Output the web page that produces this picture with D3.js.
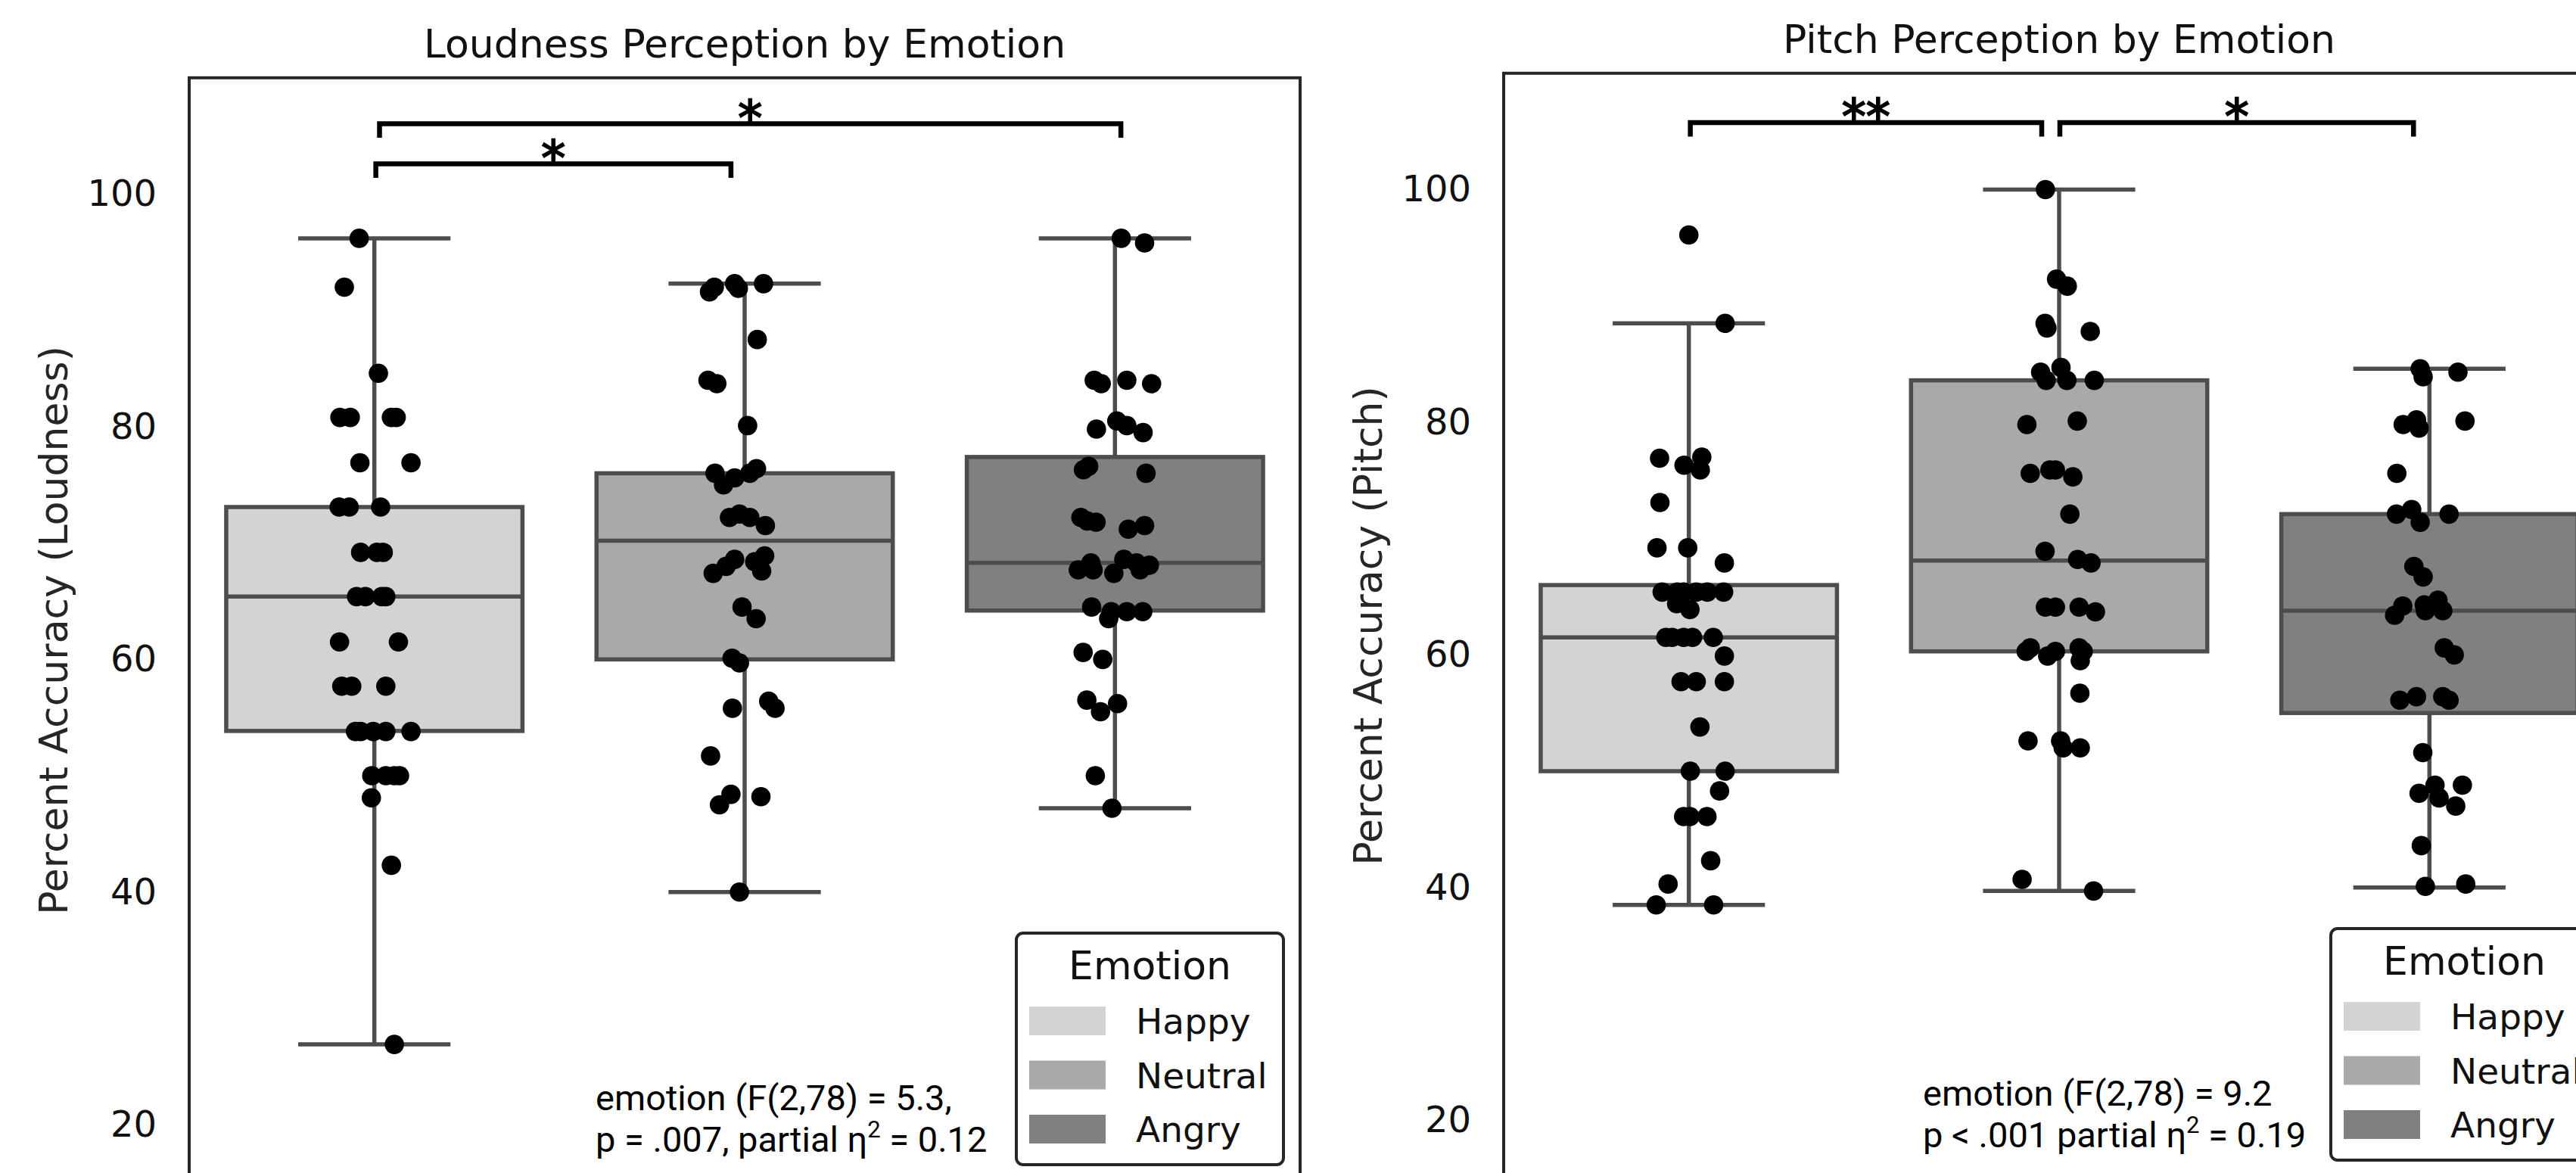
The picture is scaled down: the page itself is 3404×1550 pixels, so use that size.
<!DOCTYPE html>
<html><head><meta charset="utf-8">
<script src="https://cdn.jsdelivr.net/npm/d3@7"></script>
<style>html,body{margin:0;padding:0;background:#fff}</style>
</head><body>
<svg id="chart" width="3404" height="1550"></svg>
<script>
// ---------- data ----------
const emotions = ["Happy", "Neutral", "Angry"];
const boxColors = ["#d3d3d3", "#a9a9a9", "#808080"];
const yTicks = [20, 40, 60, 80, 100];

// Loudness: per-participant accuracy and horizontal strip jitter (fraction of band)
const loudHappy = [96.2, 92.0, 84.6, 80.8, 80.8, 80.8, 80.8, 76.9, 76.9, 73.1, 73.1, 73.1, 69.2, 69.2, 69.2, 65.4, 65.4, 65.4, 65.4, 61.5, 61.5, 57.7, 57.7, 57.7, 53.8, 53.8, 53.8, 53.8, 53.8, 50.0, 50.0, 50.0, 50.0, 48.1, 42.3, 26.9];
const loudHappyJitter = [-0.041, -0.081, 0.011, -0.093, -0.065, 0.046, 0.059, -0.039, 0.099, -0.095, -0.068, 0.017, -0.037, 0.007, 0.024, -0.048, -0.024, 0.020, 0.031, -0.094, 0.065, -0.088, -0.061, 0.031, -0.051, -0.037, -0.003, 0.031, 0.099, -0.007, 0.031, 0.054, 0.068, -0.008, 0.046, 0.054];
const loudNeutral = [91.6, 92.0, 92.3, 91.9, 92.3, 87.5, 84.0, 83.7, 80.1, 76.0, 75.0, 75.6, 76.0, 76.4, 72.2, 72.5, 72.2, 71.5, 67.4, 68.0, 68.6, 68.4, 67.6, 68.9, 64.5, 63.5, 60.1, 59.7, 55.8, 56.4, 55.8, 51.7, 48.4, 47.5, 48.2, 40.0];
const loudNeutralJitter = [-0.095, -0.082, -0.027, -0.017, 0.051, 0.034, -0.099, -0.075, 0.008, -0.080, -0.057, -0.027, 0.014, 0.032, -0.041, -0.014, 0.014, 0.056, -0.085, -0.050, -0.027, 0.027, 0.046, 0.054, -0.007, 0.031, -0.034, -0.014, -0.033, 0.065, 0.082, -0.092, -0.037, -0.068, 0.044, -0.014];
const loudAngry = [96.2, 95.8, 84.0, 83.7, 84.0, 83.7, 79.8, 80.5, 80.1, 79.5, 76.3, 76.6, 76.0, 72.2, 71.9, 71.8, 71.2, 71.5, 67.7, 68.3, 67.7, 67.4, 68.6, 68.3, 67.7, 68.1, 64.5, 63.5, 64.1, 64.1, 64.1, 60.6, 60.0, 56.5, 55.5, 56.2, 50.0, 47.2];
const loudAngryJitter = [0.017, 0.080, -0.056, -0.037, 0.032, 0.099, -0.050, 0.005, 0.032, 0.076, -0.085, -0.071, 0.084, -0.092, -0.075, -0.051, 0.036, 0.080, -0.099, -0.065, -0.059, -0.003, 0.024, 0.058, 0.068, 0.093, -0.063, -0.017, -0.010, 0.032, 0.075, -0.086, -0.033, -0.076, -0.039, 0.007, -0.053, -0.008];
const loudQ1 = [53.85, 60.0, 64.2];
const loudMedian = [65.4, 70.2, 68.3];
const loudQ3 = [73.1, 76.0, 77.4];
const loudWhiskerLow = [26.9, 40.0, 47.2];
const loudWhiskerHigh = [96.2, 92.3, 96.2];
const loudBrackets = [
  {from: 0.004, to: 0.963, level: 102.6, label: "*"},
  {from: 0.014, to: 2.016, level: 106.05, label: "*"}
];
const loudStatLine1 = "emotion (F(2,78) = 5.3,";
const loudStatLine2 = ["p = .007, partial η", "2", " = 0.12"];

// Pitch
const pitchHappy = [96.1, 88.5, 76.9, 76.3, 77.0, 75.9, 73.1, 69.2, 69.2, 67.9, 65.4, 65.4, 65.4, 65.4, 65.4, 65.4, 64.4, 63.9, 61.5, 61.5, 61.5, 61.5, 61.5, 59.9, 57.7, 57.7, 57.7, 53.8, 50.0, 50.0, 48.3, 46.1, 46.1, 46.1, 42.3, 40.3, 38.5, 38.5];
const pitchHappyJitter = [0.000, 0.098, -0.079, -0.013, 0.035, 0.031, -0.078, -0.086, -0.003, 0.096, -0.072, -0.031, -0.014, 0.020, 0.050, 0.094, -0.033, 0.003, -0.062, -0.045, -0.014, 0.010, 0.066, 0.096, -0.021, 0.020, 0.096, 0.030, 0.004, 0.098, 0.083, -0.014, 0.003, 0.049, 0.059, -0.056, -0.088, 0.067];
const pitchNeutral = [100.0, 92.3, 91.7, 88.5, 88.1, 87.8, 84.3, 83.6, 84.7, 83.6, 83.6, 79.8, 80.1, 75.6, 75.9, 75.9, 75.3, 72.1, 68.9, 68.2, 67.9, 64.1, 64.1, 64.1, 63.7, 60.3, 60.6, 59.9, 60.3, 60.6, 60.3, 59.5, 56.7, 52.6, 52.6, 52.0, 52.0, 40.7, 39.7];
const pitchNeutralJitter = [-0.037, -0.007, 0.022, -0.038, -0.033, 0.084, -0.050, -0.035, 0.005, 0.021, 0.095, -0.087, 0.049, -0.078, -0.025, -0.010, 0.037, 0.029, -0.038, 0.050, 0.086, -0.037, -0.010, 0.054, 0.098, -0.089, -0.078, -0.031, -0.010, 0.054, 0.065, 0.057, 0.056, -0.084, 0.004, 0.011, 0.057, -0.100, 0.093];
const pitchAngry = [84.6, 83.9, 84.3, 79.8, 80.2, 79.5, 80.1, 75.6, 72.1, 72.5, 71.4, 72.1, 67.6, 66.7, 63.4, 64.2, 64.3, 64.7, 63.8, 63.8, 60.6, 60.0, 56.1, 56.4, 56.4, 56.1, 51.6, 48.1, 48.8, 47.7, 47.0, 48.8, 43.6, 40.1, 40.3];
const pitchAngryJitter = [-0.025, -0.017, 0.077, -0.071, -0.035, -0.028, 0.096, -0.088, -0.089, -0.048, -0.025, 0.053, -0.042, -0.017, -0.094, -0.072, -0.014, 0.023, 0.036, -0.011, 0.040, 0.067, -0.080, -0.035, 0.036, 0.053, -0.018, -0.028, 0.015, 0.026, 0.071, 0.089, -0.022, -0.011, 0.098];
const pitchQ1 = [50.0, 60.3, 55.0];
const pitchMedian = [61.5, 68.1, 63.8];
const pitchQ3 = [66.0, 83.6, 72.1];
const pitchWhiskerLow = [38.5, 39.7, 40.0];
const pitchWhiskerHigh = [88.5, 100.0, 84.6];
const pitchBrackets = [
  {from: 0.004, to: 0.953, level: 105.76, label: "**"},
  {from: 1.002, to: 1.957, level: 105.76, label: "*"}
];
const pitchStatLine1 = "emotion (F(2,78) = 9.2";
const pitchStatLine2 = ["p < .001 partial η", "2", " = 0.19"];

// ---------- layout ----------
const FONT = "DejaVu Sans";
const TEXT = "#111";
const FRAME = "#262626";
const LINE = "#4d4d4d";
const AXW = 1468;
const yDomain = [15, 110];

const svg = d3.select("#chart");
svg.append("rect").attr("width", 3404).attr("height", 1550).attr("fill", "#fff");

const panels = [
  {title: "Loudness Perception by Emotion", ylabel: "Percent Accuracy (Loudness)",
   x0: 250, yTop: 102.8, yBottom: 1563,
   values: [loudHappy, loudNeutral, loudAngry], jitter: [loudHappyJitter, loudNeutralJitter, loudAngryJitter],
   q1: loudQ1, med: loudMedian, q3: loudQ3, lo: loudWhiskerLow, hi: loudWhiskerHigh,
   brackets: loudBrackets, stat1: loudStatLine1, stat2: loudStatLine2, statX: 537},
  {title: "Pitch Perception by Emotion", ylabel: "Percent Accuracy (Pitch)",
   x0: 1987, yTop: 96.8, yBottom: 1557,
   values: [pitchHappy, pitchNeutral, pitchAngry], jitter: [pitchHappyJitter, pitchNeutralJitter, pitchAngryJitter],
   q1: pitchQ1, med: pitchMedian, q3: pitchQ3, lo: pitchWhiskerLow, hi: pitchWhiskerHigh,
   brackets: pitchBrackets, stat1: pitchStatLine1, stat2: pitchStatLine2, statX: 554}
];

panels.forEach(drawPanel);

function drawPanel(p) {
  const g = svg.append("g");
  const x = d3.scaleBand().domain(emotions).range([p.x0, p.x0 + AXW]).padding(0);
  const xi = d3.scaleLinear().domain([-0.5, 2.5]).range([p.x0, p.x0 + AXW]);
  const y = d3.scaleLinear().domain(yDomain).range([p.yBottom, p.yTop]);
  const bw = x.bandwidth();
  const boxW = 0.8 * bw;
  const lw = 5.5;

  // boxes
  emotions.forEach((e, i) => {
    const cx = x(e) + bw / 2;
    const wl = g.append("g").attr("stroke", LINE).attr("stroke-width", lw).attr("stroke-linecap", "butt");
    wl.append("line").attr("x1", cx).attr("x2", cx).attr("y1", y(p.q3[i])).attr("y2", y(p.hi[i]));
    wl.append("line").attr("x1", cx).attr("x2", cx).attr("y1", y(p.q1[i])).attr("y2", y(p.lo[i]));
    wl.append("line").attr("x1", cx - boxW / 4).attr("x2", cx + boxW / 4).attr("y1", y(p.hi[i])).attr("y2", y(p.hi[i])).attr("stroke-linecap", "square");
    wl.append("line").attr("x1", cx - boxW / 4).attr("x2", cx + boxW / 4).attr("y1", y(p.lo[i])).attr("y2", y(p.lo[i])).attr("stroke-linecap", "square");
    g.append("rect").attr("x", cx - boxW / 2).attr("y", y(p.q3[i]))
      .attr("width", boxW).attr("height", y(p.q1[i]) - y(p.q3[i]))
      .attr("fill", boxColors[i]).attr("stroke", LINE).attr("stroke-width", lw);
    g.append("line").attr("x1", cx - boxW / 2).attr("x2", cx + boxW / 2)
      .attr("y1", y(p.med[i])).attr("y2", y(p.med[i]))
      .attr("stroke", LINE).attr("stroke-width", lw);
  });

  // strip points
  emotions.forEach((e, i) => {
    const cx = x(e) + bw / 2;
    g.append("g").selectAll("circle").data(p.values[i]).join("circle")
      .attr("cx", (d, k) => cx + p.jitter[i][k] * bw)
      .attr("cy", d => y(d))
      .attr("r", 12.8)
      .attr("fill", "#000");
  });

  // significance brackets
  p.brackets.forEach(b => {
    const x1 = xi(b.from), x2 = xi(b.to);
    const yl = y(b.level), yd = y(b.level - 1.2);
    g.append("path").attr("d", `M${x1},${yd}L${x1},${yl}L${x2},${yl}L${x2},${yd}`)
      .attr("fill", "none").attr("stroke", "#000").attr("stroke-width", 6.5);
    g.append("text").attr("x", (x1 + x2) / 2).attr("y", yl + 14)
      .attr("text-anchor", "middle").attr("font-family", FONT).attr("font-size", 64)
      .attr("fill", "#000").attr("stroke", "#000").attr("stroke-width", 2).text(b.label);
  });

  // frame
  g.append("rect").attr("x", p.x0).attr("y", p.yTop).attr("width", AXW).attr("height", p.yBottom - p.yTop)
    .attr("fill", "none").attr("stroke", FRAME).attr("stroke-width", 4);

  // y axis labels
  const ax = g.append("g").attr("transform", `translate(${p.x0},0)`)
    .call(d3.axisLeft(y).tickValues(yTicks).tickSize(0).tickPadding(43).tickFormat(d3.format("d")));
  ax.select(".domain").remove();
  ax.selectAll("text").attr("font-family", FONT).attr("font-size", 48).attr("fill", TEXT);

  // y label
  g.append("text").attr("transform", `translate(${p.x0 - 180},${(p.yTop + p.yBottom) / 2}) rotate(-90)`)
    .attr("text-anchor", "middle").attr("dy", "0.36em")
    .attr("font-family", FONT).attr("font-size", 52).attr("fill", "#262626").text(p.ylabel);

  // title
  g.append("text").attr("x", p.x0 + AXW / 2).attr("y", p.yTop - 27)
    .attr("text-anchor", "middle").attr("font-family", FONT).attr("font-size", 52)
    .attr("fill", TEXT).text(p.title);

  // statistics annotation
  const sx = p.x0 + p.statX;
  g.append("text").attr("x", sx).attr("y", p.yBottom - 96)
    .attr("font-family", "Roboto").attr("font-size", 47).attr("fill", "#000").text(p.stat1);
  const t2 = g.append("text").attr("x", sx).attr("y", p.yBottom - 41)
    .attr("font-family", "Roboto").attr("font-size", 47).attr("fill", "#000");
  t2.append("tspan").text(p.stat2[0]);
  t2.append("tspan").attr("dy", -19).attr("font-size", 31).text(p.stat2[1]);
  t2.append("tspan").attr("dy", 19).attr("font-size", 47).text(p.stat2[2]);

  // legend
  const legW = 353, legH = 306;
  const lx = p.x0 + AXW - 22 - legW, ly = p.yBottom - 24 - legH;
  const lg = g.append("g").attr("transform", `translate(${lx},${ly})`);
  lg.append("rect").attr("x", 0).attr("y", 0).attr("width", legW).attr("height", legH)
    .attr("rx", 9).attr("fill", "#fff").attr("stroke", FRAME).attr("stroke-width", 4);
  lg.append("text").attr("x", legW / 2).attr("y", 61).attr("text-anchor", "middle")
    .attr("font-family", FONT).attr("font-size", 52).attr("fill", TEXT).text("Emotion");
  emotions.forEach((e, i) => {
    const cy = 116 + i * 71.5;
    lg.append("rect").attr("x", 17).attr("y", cy - 19).attr("width", 101).attr("height", 38).attr("fill", boxColors[i]);
    lg.append("text").attr("x", 158).attr("y", cy + 17).attr("font-family", FONT).attr("font-size", 47)
      .attr("fill", TEXT).text(e);
  });
}
</script>
</body></html>
